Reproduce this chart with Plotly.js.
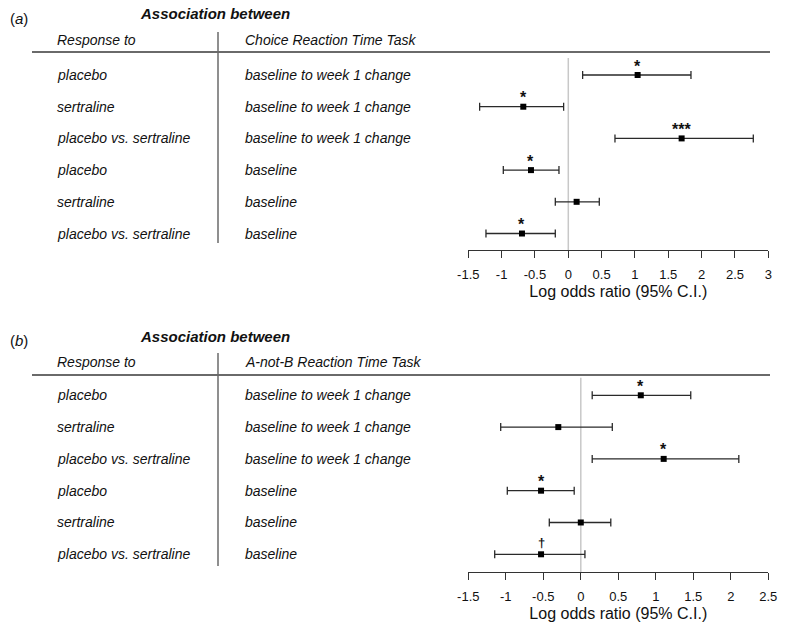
<!DOCTYPE html>
<html><head><meta charset="utf-8">
<script src="https://cdn.plot.ly/plotly-3.0.1.min.js"></script>
<style>body{margin:0;background:#fff}</style></head>
<body><div id="chart" style="width:800px;height:634px"></div>
<script>
const responseTo = ['placebo','sertraline','placebo vs. sertraline','placebo','sertraline','placebo vs. sertraline'];
const association = ['baseline to week 1 change','baseline to week 1 change','baseline to week 1 change','baseline','baseline','baseline'];
const rows = [1,2,3,4,5,6];
const taskA = 'Choice Reaction Time Task';
const taskB = 'A-not-B Reaction Time Task';
const estA  = [1.04, -0.675, 1.70, -0.56, 0.125, -0.695];
const lowA  = [0.215, -1.33, 0.70, -0.975, -0.195, -1.235];
const highA = [1.84, -0.07, 2.775, -0.14, 0.465, -0.195];
const sigA  = ['*','*','***','*','','*'];
const estB  = [0.80, -0.30, 1.105, -0.53, 0.0, -0.53];
const lowB  = [0.152, -1.068, 0.152, -0.98, -0.42, -1.148];
const highB = [1.466, 0.42, 2.107, -0.088, 0.40, 0.055];
const sigB  = ['*','','*','*','','\u2020'];
const ticksA = [-1.5,-1,-0.5,0,0.5,1,1.5,2,2.5,3];
const ticksB = [-1.5,-1,-0.5,0,0.5,1,1.5,2,2.5];
const axisTitle = 'Log odds ratio (95% C.I.)';

const W = 800, H = 634;
const px = x => x / W;
const py = y => 1 - y / H;
const FONT = 'Liberation Sans, Arial, sans-serif';
const INK = '#111';

function trace(est, low, high, xa, ya) {
  return {
    type: 'scatter', mode: 'markers', x: est, y: rows, xaxis: xa, yaxis: ya,
    marker: {symbol: 'square', size: 6, color: '#000'},
    error_x: {type: 'data', symmetric: false,
      array: high.map((h, i) => h - est[i]),
      arrayminus: est.map((e, i) => e - low[i]),
      color: '#2a2a2a', thickness: 1.3, width: 4},
    cliponaxis: false, showlegend: false, hoverinfo: 'x'
  };
}

function xaxisDef(ticks) {
  return {
    domain: [px(468.3), px(768.3)], range: [ticks[0], ticks[ticks.length - 1]],
    tickvals: ticks, ticktext: ticks.map(String),
    showgrid: false, zeroline: false, showline: true, linecolor: '#333', linewidth: 1,
    ticks: 'outside', ticklen: 7, tickcolor: '#333', tickwidth: 1, ticklabelstandoff: 5,
    tickfont: {family: FONT, size: 13, color: INK},
    title: {text: axisTitle, font: {family: FONT, size: 16, color: INK}, standoff: 5},
    fixedrange: true
  };
}

const yA = {domain: [py(250), py(52)], range: [6.52, 0.274], visible: false, fixedrange: true};
const yB = {domain: [py(572), py(375)], range: [6.557, 0.362], visible: false, fixedrange: true};

const annotations = [];
function panel(label, task, xref, yref, headY, subY, est, sig) {
  annotations.push({xref: 'paper', yref: 'paper', x: px(8), y: py(headY + 4), xanchor: 'left', yanchor: 'middle',
    text: '(<i>' + label + '</i>)', showarrow: false, font: {family: FONT, size: 15, color: INK}});
  annotations.push({xref: 'paper', yref: 'paper', x: px(215), y: py(headY), xanchor: 'center', yanchor: 'middle',
    text: '<b><i>Association between</i></b>', showarrow: false, font: {family: FONT, size: 15, color: INK}});
  annotations.push({xref: 'paper', yref: 'paper', x: px(55), y: py(subY), xanchor: 'left', yanchor: 'middle',
    text: '<i>Response to</i>', showarrow: false, font: {family: FONT, size: 14, color: INK}});
  annotations.push({xref: 'paper', yref: 'paper', x: px(243), y: py(subY), xanchor: 'left', yanchor: 'middle',
    text: '<i>' + task + '</i>', showarrow: false, font: {family: FONT, size: 14, color: INK}});
  rows.forEach((r, i) => {
    annotations.push({xref: 'paper', yref: yref, x: px(55), y: r, xanchor: 'left', yanchor: 'middle',
      text: '<i>' + responseTo[i] + '</i>', showarrow: false, font: {family: FONT, size: 14, color: INK}});
    annotations.push({xref: 'paper', yref: yref, x: px(243), y: r, xanchor: 'left', yanchor: 'middle',
      text: '<i>' + association[i] + '</i>', showarrow: false, font: {family: FONT, size: 14, color: INK}});
    if (sig[i]) {
      const dagger = sig[i] === '\u2020';
      annotations.push({xref: xref, yref: yref, x: est[i], y: r, xanchor: 'center', yanchor: 'middle',
        yshift: dagger ? 12 : 9, text: '<b>' + sig[i] + '</b>', showarrow: false,
        font: {family: FONT, size: dagger ? 13 : 16, color: INK}});
    }
  });
}
panel('a', taskA, 'x', 'y', 14, 40, estA, sigA);
panel('b', taskB, 'x2', 'y2', 336, 362, estB, sigB);

const shapes = [
  {type: 'line', xref: 'paper', yref: 'paper', x0: px(32), x1: px(770), y0: py(52), y1: py(52), line: {color: '#6a6a6a', width: 2}},
  {type: 'line', xref: 'paper', yref: 'paper', x0: px(218), x1: px(218), y0: py(32), y1: py(243), line: {color: '#6a6a6a', width: 1.5}},
  {type: 'line', xref: 'x', yref: 'y', x0: 0, x1: 0, y0: 0.46, y1: 6.52, line: {color: '#c8c8c8', width: 1.5}, layer: 'below'},
  {type: 'line', xref: 'paper', yref: 'paper', x0: px(32), x1: px(770), y0: py(375), y1: py(375), line: {color: '#6a6a6a', width: 2}},
  {type: 'line', xref: 'paper', yref: 'paper', x0: px(218), x1: px(218), y0: py(353), y1: py(566), line: {color: '#6a6a6a', width: 1.5}},
  {type: 'line', xref: 'x2', yref: 'y2', x0: 0, x1: 0, y0: 0.45, y1: 6.557, line: {color: '#c8c8c8', width: 1.5}, layer: 'below'}
];

const layout = {
  width: W, height: H, margin: {l: 0, r: 0, t: 0, b: 0},
  paper_bgcolor: '#fff', plot_bgcolor: 'rgba(0,0,0,0)',
  xaxis: Object.assign(xaxisDef(ticksA), {anchor: 'y'}),
  yaxis: Object.assign(yA, {anchor: 'x'}),
  xaxis2: Object.assign(xaxisDef(ticksB), {anchor: 'y2'}),
  yaxis2: Object.assign(yB, {anchor: 'x2'}),
  annotations: annotations, shapes: shapes, showlegend: false
};

Plotly.newPlot('chart', [trace(estA, lowA, highA, 'x', 'y'), trace(estB, lowB, highB, 'x2', 'y2')], layout, {staticPlot: true});
</script></body></html>
